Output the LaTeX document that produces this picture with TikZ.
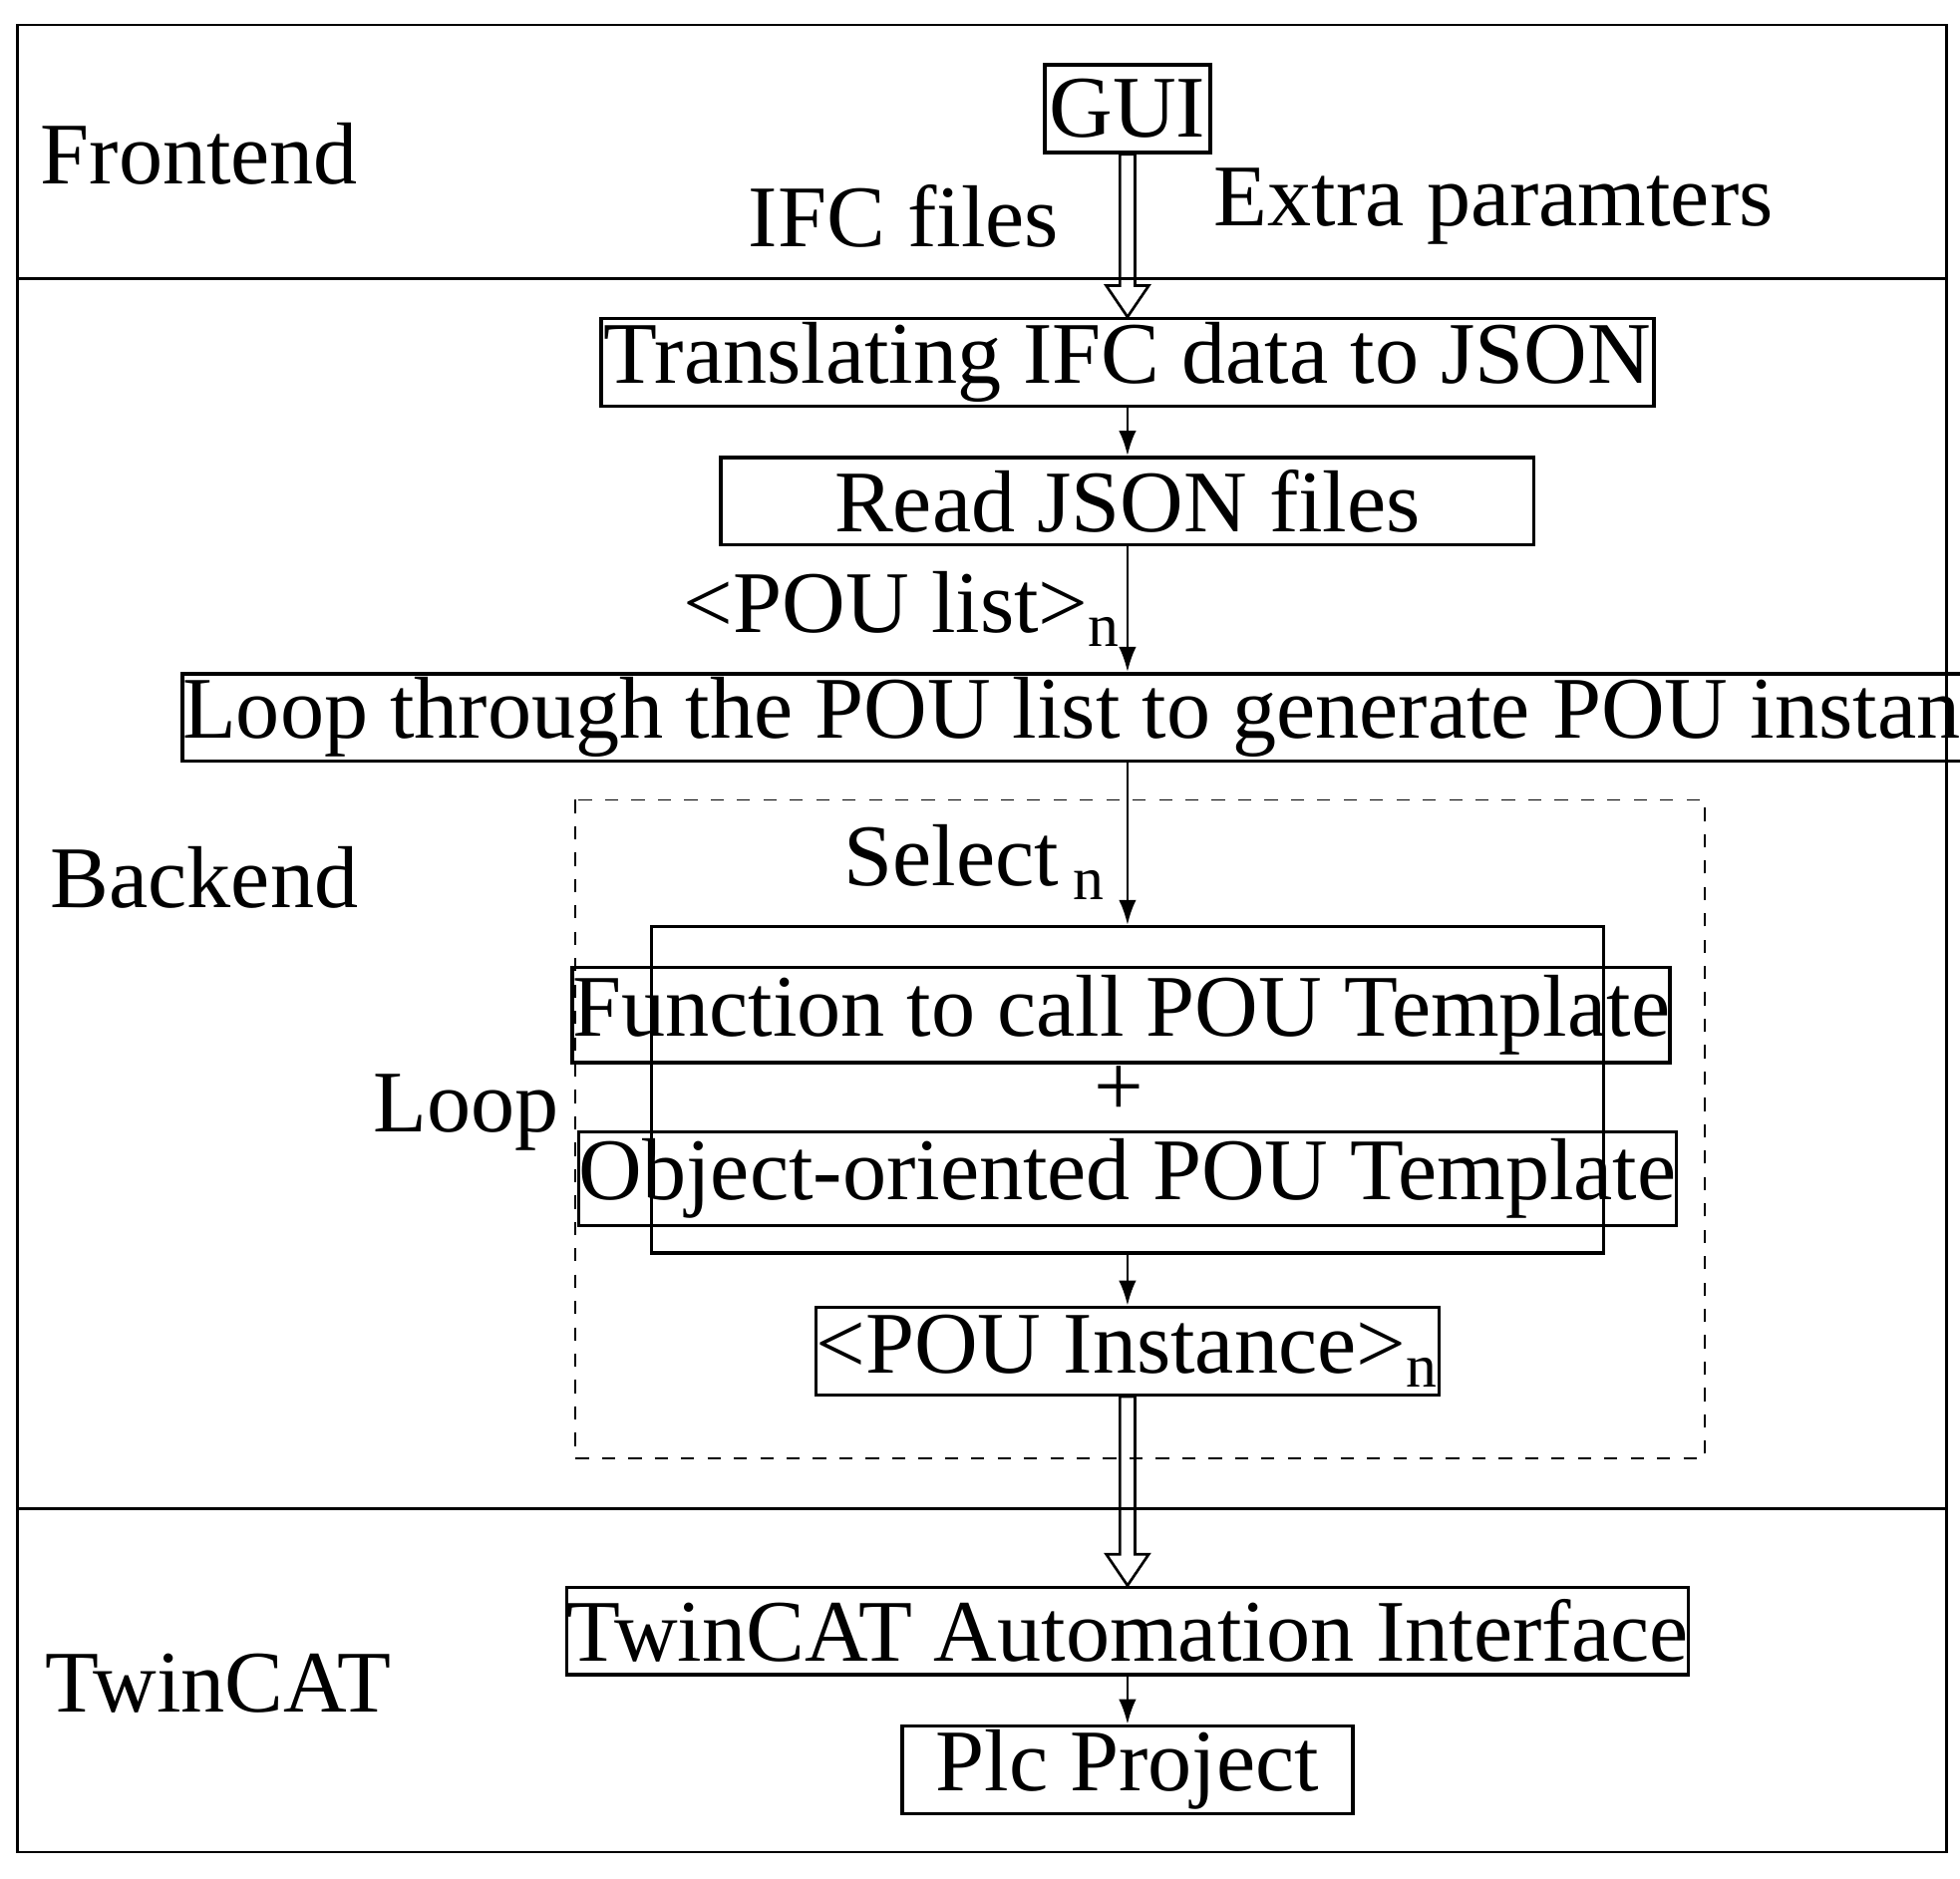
\documentclass[tikz,border=0pt]{standalone}
\usepackage{fontspec}
\setmainfont{Liberation Serif}
\usetikzlibrary{calc,arrows.meta}

\tikzset{
  block/.style={draw, thick, minimum height=0.7cm, inner sep=0pt, font=\fontsize{20}{24}\selectfont},
  lbl/.style={font=\fontsize{20}{24}\selectfont},
  flow/.style={-{Latex[length=2mm,width=1.4mm]}, semithick},
}
% hollow block arrow between two points
\newcommand{\hollowarrow}[2]{%
  \draw[semithick] let \p1=(#1), \p2=(#2) in
    (\x1-0.06cm,\y1) -- (\x1-0.06cm,\y2+0.25cm) -- (\x1-0.17cm,\y2+0.25cm) --
    (\x1,\y2) -- (\x1+0.17cm,\y2+0.25cm) -- (\x1+0.06cm,\y2+0.25cm) --
    (\x1+0.06cm,\y1) -- cycle;}

\begin{document}
\begin{tikzpicture}[x=0.01cm, y=-0.01cm]
\useasboundingbox (0,0) rectangle (1568,1503);

% Layers
\draw[semithick] (14,20) rectangle (1557,1482);
\draw[semithick] (14,223) -- (1557,223);
\draw[semithick] (14,1207) -- (1557,1207);
\node[lbl, anchor=west] (front) at (20,123) {Frontend};
\node[lbl, anchor=west] (back) at (28,702) {Backend};
\node[lbl, anchor=west] (twin) at (24,1347) {TwinCAT};

% Frontend
\node[block, minimum width=1.32cm] (gui) at (902,87) {GUI};
\node[lbl] (ifc) at (723,173) {IFC files};
\node[lbl] (extra) at (1195,165) {Extra paramters};

% Backend
\node[block, minimum width=8.42cm] (trans) at (902,290) {Translating IFC data to JSON};
\node[block, minimum width=6.5cm] (read) at (902,401) {Read JSON files};
\node[lbl] (poulist) at (722,487) {<POU list>\textsubscript{n}};
\node[block, minimum width=11.44cm] (loop) at (902,574) {Loop through the POU list to generate POU instances};
\draw[dashed] (460,640) rectangle (1364,1167);
\node[lbl] (loopl) at (373,890) {Loop};
\node[lbl] (select) at (780,690) {Select\,\textsubscript{n}};
\node[draw, thick, minimum width=7.61cm, minimum height=2.61cm] (tmpl) at (902,872) {};
\node[block, minimum width=6.5cm, minimum height=0.76cm] (func) at (897,812) {Function to call POU Template};
\node[lbl] (plus) at (895,873) {+};
\node[block, minimum width=6.72cm, minimum height=0.75cm] (obj) at (902,943) {Object-oriented POU Template};
\node[block, minimum width=4.52cm] (inst) at (902,1081) {<POU Instance>\textsubscript{n}};

% TwinCAT
\node[block, minimum width=7.1cm] (ai) at (902,1305) {TwinCAT Automation Interface};
\node[block, minimum width=3.6cm] (plc) at (902,1416) {Plc Project};

% Connectors
\hollowarrow{gui.south}{trans.north}
\draw[flow] (trans) -- (read);
\draw[flow] (read) -- (loop);
\draw[flow] (loop) -- (tmpl);
\draw[flow] (tmpl) -- (inst);
\hollowarrow{inst.south}{ai.north}
\draw[flow] (ai) -- (plc);
\end{tikzpicture}
\end{document}
